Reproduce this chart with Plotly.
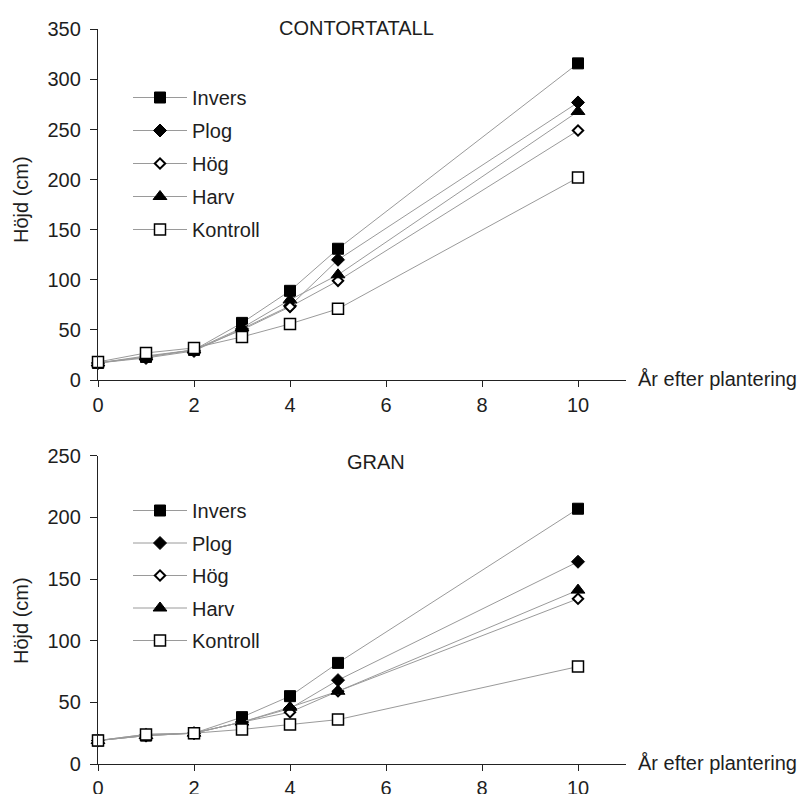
import plotly.graph_objects as go

years = [0, 1, 2, 3, 4, 5, 10]
series_names = ["Invers", "Plog", "Hög", "Harv", "Kontroll"]

# CONTORTATALL heights (cm)
contorta_invers = [17, 23, 30, 57, 89, 131, 316]
contorta_plog = [17, 22, 29, 51, 74, 120, 277]
contorta_hog = [17, 24, 30, 50, 73, 99, 249]
contorta_harv = [17, 23, 30, 52, 80, 105, 268]
contorta_kontroll = [18, 27, 32, 43, 56, 71, 202]

# GRAN heights (cm)
gran_invers = [19, 23, 25, 38, 55, 82, 207]
gran_plog = [19, 23, 25, 34, 45, 68, 164]
gran_hog = [19, 24, 25, 34, 42, 59, 134]
gran_harv = [19, 23, 25, 34, 46, 59, 141]
gran_kontroll = [19, 24, 25, 28, 32, 36, 79]

x_ticks = [0, 2, 4, 6, 8, 10]
y_ticks_top = [0, 50, 100, 150, 200, 250, 300, 350]
y_ticks_bottom = [0, 50, 100, 150, 200, 250]

W, H = 808, 794
FONT = "Liberation Sans, Arial, Helvetica, sans-serif"
TXT = "#1e1e1e"
FS = 20

styles = {
    "Invers": dict(symbol="square", size=11, color="black", line=dict(color="black", width=1)),
    "Plog": dict(symbol="diamond", size=10, color="black", line=dict(color="black", width=1)),
    "Hög": dict(symbol="diamond", size=8, color="white", line=dict(color="black", width=2)),
    "Harv": dict(symbol="triangle-up", size=12, color="black", line=dict(color="black", width=1)),
    "Kontroll": dict(symbol="square", size=11, color="white", line=dict(color="black", width=1.5)),
}

fig = go.Figure()

top_data = [contorta_invers, contorta_plog, contorta_hog, contorta_harv, contorta_kontroll]
bot_data = [gran_invers, gran_plog, gran_hog, gran_harv, gran_kontroll]

for name, vals in zip(series_names, top_data):
    fig.add_trace(go.Scatter(
        x=years, y=vals, name=name, mode="lines+markers",
        line=dict(color="#9a9a9a", width=1), marker=styles[name],
        xaxis="x", yaxis="y", legend="legend", legendgroup="t" + name,
        cliponaxis=False,
    ))
for name, vals in zip(series_names, bot_data):
    fig.add_trace(go.Scatter(
        x=years, y=vals, name=name, mode="lines+markers",
        line=dict(color="#9a9a9a", width=1), marker=styles[name],
        xaxis="x2", yaxis="y2", legend="legend2", legendgroup="b" + name,
        cliponaxis=False,
    ))

xd = [98 / W, 626 / W]
ytop = [1 - 380 / H, 1 - 29.3 / H]
ybot = [1 - 764 / H, 1 - 455.7 / H]

axis_common = dict(
    showline=True, linecolor="#222", linewidth=1.3, ticks="outside",
    tickcolor="#222", tickwidth=1.3, showgrid=False, zeroline=False,
    tickfont=dict(family=FONT, size=FS, color=TXT), automargin=False,
)

fig.update_layout(
    width=W, height=H,
    margin=dict(l=0, r=0, t=0, b=0),
    paper_bgcolor="white", plot_bgcolor="white",
    font=dict(family=FONT, size=FS, color=TXT),
    xaxis=dict(domain=xd, anchor="y", range=[0, 11], tickvals=x_ticks, ticklen=6,
               ticklabelstandoff=1, **axis_common),
    yaxis=dict(domain=ytop, anchor="x", range=[0, 350], tickvals=y_ticks_top, ticklen=7,
               ticklabelstandoff=5, **axis_common),
    xaxis2=dict(domain=xd, anchor="y2", range=[0, 11], tickvals=x_ticks, ticklen=6,
                ticklabelstandoff=0, **axis_common),
    yaxis2=dict(domain=ybot, anchor="x2", range=[0, 250], tickvals=y_ticks_bottom, ticklen=7,
                ticklabelstandoff=5, **axis_common),
    legend=dict(x=128 / W, y=1 - 78 / H, xanchor="left", yanchor="top",
                traceorder="grouped", tracegroupgap=4, itemwidth=54,
                font=dict(family=FONT, size=FS, color=TXT), bgcolor="rgba(0,0,0,0)"),
    legend2=dict(x=128 / W, y=1 - 491 / H, xanchor="left", yanchor="top",
                 traceorder="grouped", tracegroupgap=3.5, itemwidth=54,
                 font=dict(family=FONT, size=FS, color=TXT), bgcolor="rgba(0,0,0,0)"),
    showlegend=True,
)

annots = [
    dict(text="CONTORTATALL", x=356 / W, y=1 - 28.3 / H),
    dict(text="GRAN", x=376 / W, y=1 - 462 / H),
]
for a in annots:
    fig.add_annotation(text=a["text"], x=a["x"], y=a["y"], xref="paper", yref="paper",
                       xanchor="center", yanchor="middle", showarrow=False,
                       font=dict(family=FONT, size=FS, color=TXT))

for yy in [1 - 379 / H, 1 - 763 / H]:
    fig.add_annotation(text="År efter plantering", x=636 / W, y=yy, xref="paper", yref="paper",
                       xanchor="left", yanchor="middle", showarrow=False,
                       font=dict(family=FONT, size=FS, color=TXT))

for yy in [1 - 200 / H, 1 - 621 / H]:
    fig.add_annotation(text="Höjd (cm)", x=21 / W, y=yy, xref="paper", yref="paper",
                       xanchor="center", yanchor="middle", textangle=-90, showarrow=False,
                       font=dict(family=FONT, size=FS, color=TXT))

fig.write_html("out.html", config={"displayModeBar": False},
               post_script="document.body.style.margin='0';")
